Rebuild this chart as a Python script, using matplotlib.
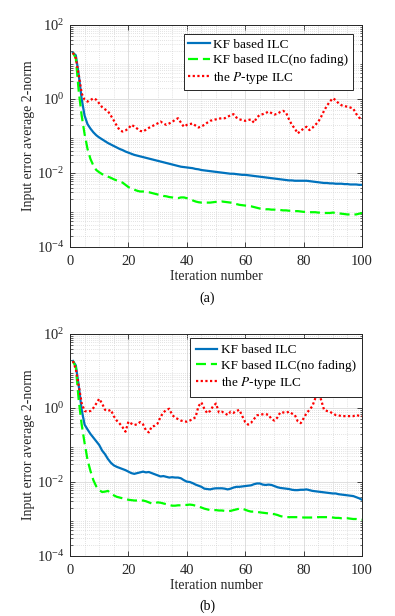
import numpy as np
import matplotlib
matplotlib.use("Agg")
import matplotlib.pyplot as plt
from matplotlib.ticker import LogLocator, LogFormatterMathtext, NullFormatter, MultipleLocator

plt.rcParams['font.family'] = ['Liberation Serif', 'DejaVu Serif']
plt.rcParams['mathtext.fontset'] = 'stix'

iterations = list(range(1, 101))

# Panel (a): log10 of the input error average 2-norm
kf_a_log10 = [1.25, 1.18, 0.65, 0.0, -0.45, -0.68, -0.8, -0.9, -0.98, -1.04,
              -1.09, -1.14, -1.19, -1.23, -1.27, -1.31, -1.35, -1.38, -1.42, -1.45,
              -1.48, -1.51, -1.53, -1.55, -1.57, -1.59, -1.61, -1.63, -1.65, -1.67,
              -1.69, -1.71, -1.73, -1.75, -1.77, -1.79, -1.81, -1.83, -1.84, -1.85,
              -1.86, -1.87, -1.89, -1.90, -1.92, -1.93, -1.94, -1.95, -1.96, -1.97,
              -1.98, -1.99, -2.0, -2.01, -2.02, -2.02, -2.03, -2.04, -2.05, -2.05,
              -2.06, -2.07, -2.08, -2.09, -2.10, -2.11, -2.12, -2.13, -2.14, -2.15,
              -2.16, -2.17, -2.18, -2.19, -2.2, -2.2, -2.21, -2.21, -2.21, -2.21,
              -2.21, -2.22, -2.23, -2.24, -2.25, -2.26, -2.27, -2.27, -2.28, -2.28,
              -2.29, -2.29, -2.29, -2.30, -2.30, -2.31, -2.31, -2.31, -2.32, -2.32]
nofade_a_log10 = [1.25, 1.1, 0.2, -0.45, -0.95, -1.35, -1.62, -1.8, -1.92, -1.98,
                  -2.03, -2.07, -2.1, -2.13, -2.17, -2.2, -2.23, -2.26, -2.32, -2.38,
                  -2.42, -2.45, -2.48, -2.5, -2.5, -2.51, -2.52, -2.54, -2.56, -2.58,
                  -2.6, -2.62, -2.63, -2.65, -2.66, -2.68, -2.68, -2.66, -2.66, -2.68,
                  -2.71, -2.74, -2.77, -2.79, -2.8, -2.8, -2.8, -2.8, -2.79, -2.78,
                  -2.78, -2.77, -2.78, -2.79, -2.8, -2.82, -2.84, -2.86, -2.87, -2.88,
                  -2.89, -2.9, -2.92, -2.94, -2.96, -2.97, -2.98, -2.98, -2.99, -2.99,
                  -3.0, -3.0, -3.01, -3.01, -3.02, -3.02, -3.03, -3.03, -3.04, -3.05,
                  -3.05, -3.06, -3.06, -3.06, -3.07, -3.07, -3.08, -3.08, -3.08, -3.07,
                  -3.08, -3.09, -3.1, -3.11, -3.12, -3.12, -3.12, -3.12, -3.1, -3.08]
ptype_a_log10 = [1.25, 1.1, 0.65, 0.15, -0.02, -0.07, -0.03, 0.02, -0.02, -0.12,
                 -0.22, -0.28, -0.33, -0.45, -0.58, -0.72, -0.84, -0.88, -0.85, -0.80,
                 -0.70, -0.74, -0.80, -0.86, -0.88, -0.83, -0.78, -0.74, -0.70, -0.66,
                 -0.61, -0.66, -0.70, -0.66, -0.62, -0.56, -0.52, -0.64, -0.75, -0.70,
                 -0.68, -0.66, -0.72, -0.77, -0.74, -0.70, -0.64, -0.59, -0.57, -0.55,
                 -0.53, -0.52, -0.52, -0.48, -0.44, -0.41, -0.50, -0.55, -0.57, -0.59,
                 -0.57, -0.55, -0.64, -0.50, -0.43, -0.41, -0.38, -0.34, -0.38, -0.42,
                 -0.40, -0.35, -0.32, -0.37, -0.55, -0.70, -0.80, -0.93, -0.86, -0.80,
                 -0.75, -0.84, -0.78, -0.70, -0.62, -0.48, -0.32, -0.18, -0.07, 0.02,
                 -0.03, -0.12, -0.17, -0.19, -0.21, -0.23, -0.26, -0.40, -0.50, -0.57]

# Panel (b)
kf_b_log10 = [1.27, 1.15, 0.6, -0.05, -0.45, -0.58, -0.7, -0.8, -0.9, -1.0,
              -1.15, -1.25, -1.38, -1.48, -1.55, -1.59, -1.62, -1.65, -1.68, -1.72,
              -1.76, -1.78, -1.76, -1.74, -1.72, -1.74, -1.73, -1.76, -1.79, -1.82,
              -1.85, -1.84, -1.86, -1.88, -1.87, -1.88, -1.88, -1.90, -1.95, -1.99,
              -2.0, -2.03, -2.07, -2.1, -2.13, -2.18, -2.19, -2.2, -2.18, -2.17,
              -2.17, -2.17, -2.18, -2.2, -2.18, -2.15, -2.13, -2.13, -2.12, -2.11,
              -2.1, -2.09, -2.06, -2.04, -2.04, -2.07, -2.08, -2.07, -2.08, -2.11,
              -2.14, -2.16, -2.17, -2.18, -2.19, -2.21, -2.22, -2.22, -2.21, -2.21,
              -2.20, -2.22, -2.24, -2.25, -2.26, -2.27, -2.28, -2.29, -2.30, -2.31,
              -2.31, -2.33, -2.34, -2.35, -2.36, -2.37, -2.38, -2.41, -2.44, -2.48]
nofade_b_log10 = [1.27, 1.1, 0.2, -0.45, -0.95, -1.4, -1.7, -1.95, -2.12, -2.22,
                  -2.27, -2.26, -2.24, -2.31, -2.36, -2.4, -2.42, -2.44, -2.46, -2.48,
                  -2.49, -2.5, -2.5, -2.51, -2.5, -2.52, -2.55, -2.58, -2.58, -2.55,
                  -2.56, -2.58, -2.6, -2.62, -2.64, -2.64, -2.63, -2.63, -2.62, -2.62,
                  -2.61, -2.62, -2.64, -2.66, -2.69, -2.72, -2.74, -2.76, -2.76, -2.76,
                  -2.77, -2.77, -2.78, -2.79, -2.78, -2.76, -2.74, -2.72, -2.72, -2.75,
                  -2.78, -2.80, -2.80, -2.81, -2.82, -2.83, -2.84, -2.85, -2.86, -2.87,
                  -2.89, -2.92, -2.94, -2.95, -2.95, -2.95, -2.95, -2.95, -2.95, -2.96,
                  -2.96, -2.96, -2.96, -2.95, -2.95, -2.95, -2.95, -2.95, -2.95, -2.96,
                  -2.97, -2.97, -2.98, -2.98, -2.98, -2.99, -3.0, -3.0, -3.01, -3.02]
ptype_b_log10 = [1.27, 1.05, 0.6, 0.13, -0.08, -0.1, -0.08, 0.0, 0.12, 0.25,
                 0.12, -0.05, -0.08, -0.05, -0.22, -0.34, -0.42, -0.52, -0.64, -0.37,
                 -0.42, -0.46, -0.44, -0.38, -0.44, -0.60, -0.66, -0.50, -0.48, -0.42,
                 -0.24, -0.12, -0.05, -0.02, -0.19, -0.26, -0.30, -0.34, -0.36, -0.37,
                 -0.34, -0.30, -0.25, 0.05, 0.15, -0.02, -0.14, -0.08, 0.05, 0.12,
                 -0.12, -0.10, -0.14, -0.19, -0.10, -0.13, -0.08, -0.05, -0.22, -0.38,
                 -0.45, -0.40, -0.30, -0.20, -0.18, -0.17, -0.17, -0.18, -0.30, -0.34,
                 -0.26, -0.12, -0.12, -0.13, -0.10, -0.15, -0.19, -0.36, -0.41, -0.28,
                 -0.14, -0.05, 0.05, 0.26, 0.41, 0.22, -0.05, -0.08, -0.10, -0.15,
                 -0.19, -0.20, -0.22, -0.22, -0.22, -0.22, -0.22, -0.19, -0.21, -0.22]

labels = ['KF based ILC', 'KF based ILC(no fading)', 'the $\\mathit{P}$-type ILC']
captions = ['(a)', '(b)']
xticks = [0, 20, 40, 60, 80, 100]

fig = plt.figure(figsize=(3.95, 6.16), dpi=100)
W, H = 395, 616
panels = [
    (kf_a_log10, nofade_a_log10, ptype_a_log10, 25, 247, 298, 0.97, 0.96, 0.35),
    (kf_b_log10, nofade_b_log10, ptype_b_log10, 334, 556, 606, 1.0, 0.982, 0.45),
]
fs = 10
for i, (kf, nf, pt, top, bot, capy, lx, ly, bp) in enumerate(panels):
    ax = fig.add_axes([70 / W, 1 - bot / H, 292 / W, (bot - top) / H])
    x = np.array(iterations)
    ax.semilogy(x, 10 ** np.array(kf), color='#0072BD', lw=1.6, label=labels[0])
    ax.semilogy(x, 10 ** np.array(nf), color='#00FF00', lw=1.6, ls=(0, (4.5, 2.2)), label=labels[1])
    ax.semilogy(x, 10 ** np.array(pt), color='#FF0000', lw=1.6, ls=(0, (1, 1.1)), label=labels[2])
    ax.set_xlim(0, 100)
    ax.set_ylim(1e-4, 1e2)
    ax.set_xticks(xticks)
    ax.set_yticks([1e-4, 1e-2, 1e0, 1e2])
    ax.yaxis.set_major_formatter(LogFormatterMathtext())
    ax.yaxis.set_minor_locator(LogLocator(base=10, subs=np.arange(2, 10), numticks=20))
    ax.yaxis.set_minor_formatter(NullFormatter())
    ax.xaxis.set_minor_locator(MultipleLocator(5))
    ax.grid(True, which='major', color='#dedede', lw=0.7, ls='-')
    ax.grid(True, which='minor', color='#c8c8c8', lw=0.5, ls=(0, (1, 2)))
    ax.set_axisbelow(True)
    ax.tick_params(which='both', direction='in', top=True, right=True, labelsize=fs + 0.5,
                   colors='#262626', labelcolor='#262626')
    ax.tick_params(which='major', length=3.5, width=0.6, pad=4)
    ax.tick_params(axis='x', which='major', pad=6)
    ax.tick_params(which='minor', length=1.8, width=0.5)
    ax.tick_params(axis='x', which='minor', length=0)
    for s in ax.spines.values():
        s.set_color('#262626')
        s.set_linewidth(0.7)
    ax.set_xlabel('Iteration number', fontsize=fs, color='#262626', labelpad=1)
    ax.set_ylabel('Input error average 2-norm', fontsize=fs, color='#262626')
    ax.yaxis.set_label_coords(-35 / 292, 0.5)
    leg = ax.legend(loc='upper right', bbox_to_anchor=(lx, ly),
                    fontsize=fs - 0.5, fancybox=False, framealpha=1, edgecolor='#262626',
                    handlelength=1.6, borderpad=bp, labelspacing=0.25, handletextpad=0.3,
                    borderaxespad=0.0)
    leg.get_frame().set_linewidth(0.7)
    fig.text(207 / W, 1 - capy / H, captions[i], ha='center', va='center', fontsize=fs)

fig.savefig('out.png', dpi=100)
